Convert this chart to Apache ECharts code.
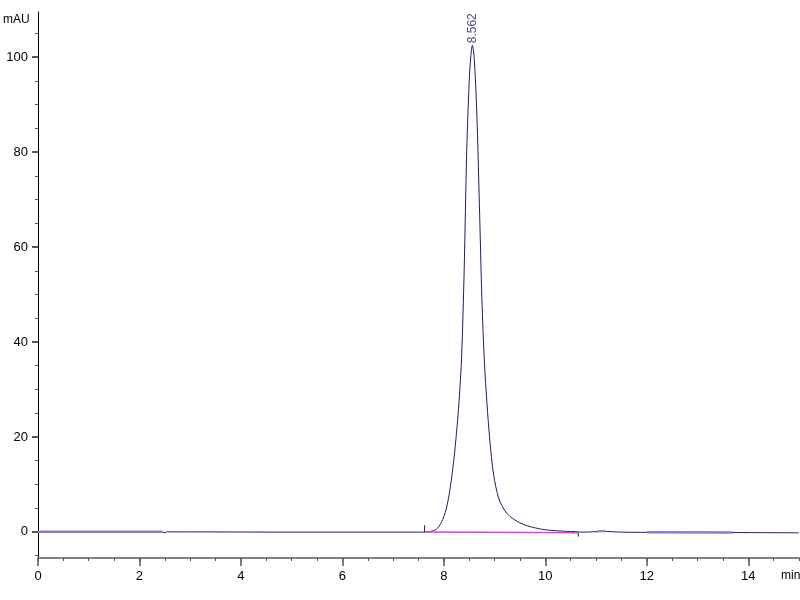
<!DOCTYPE html>
<html><head><meta charset="utf-8">
<script src="https://cdn.jsdelivr.net/npm/echarts@6/dist/echarts.min.js"></script>
<style>html,body{margin:0;padding:0;background:#fff}#c{width:800px;height:600px}</style>
</head><body><div id="c"></div>
<script>
const times = [0, 2.4, 2.5, 2.55, 2.6, 3, 5, 7, 7.5, 7.6, 7.7, 7.78, 7.85, 7.9, 7.95, 8.0, 8.05, 8.1, 8.15, 8.2, 8.25, 8.3, 8.35, 8.4, 8.45, 8.5, 8.53, 8.562, 8.6, 8.65, 8.7, 8.75, 8.8, 8.85, 8.9, 8.95, 9.0, 9.05, 9.1, 9.2, 9.3, 9.4, 9.5, 9.6, 9.7, 9.8, 9.9, 10.0, 10.2, 10.4, 10.6, 10.7, 11.0, 11.1, 11.2, 11.5, 12, 13, 14, 15];
const signal = [0.05, 0.05, -0.15, 0.05, 0, 0, -0.05, -0.05, -0.05, -0.05, 0.05, 0.2, 0.55, 1.1, 2.0, 3.2, 5.0, 7.6, 11.2, 15.5, 21, 27.5, 37, 55, 80, 95, 100, 102.5, 99.5, 88, 69, 49, 35.5, 27, 20, 14.5, 10.8, 8.3, 6.5, 4.5, 3.3, 2.5, 1.9, 1.45, 1.1, 0.85, 0.62, 0.45, 0.25, 0.12, 0.05, -0.05, 0.05, 0.2, 0.1, -0.05, -0.1, -0.1, -0.15, -0.2];
const peakPoint = [[8.562, 102.5]];
const peakLabel = '8.562';
const integBaseline = [[7.62, 0], [10.65, -0.2]];
const startMark = [[7.62, 0], [7.62, 1.4]];
const endMark = [[10.65, -0.2], [10.65, -1.0]];
const overlay1 = [[0, 0.05], [2.45, 0.05]];
const overlay2 = [[12, -0.1], [13.7, -0.12]];
const blip = [[11.0, 0.05], [11.1, 0.2], [11.2, 0.1]];
const yLabels = [0, 20, 40, 60, 80, 100];
const yMinor = [-5, 0, 5, 10, 15, 20, 25, 30, 35, 40, 45, 50, 55, 60, 65, 70, 75, 80, 85, 90, 95, 100, 105];
const xLabels = [0, 2, 4, 6, 8, 10, 12, 14];

const font = 'Liberation Sans, Arial, sans-serif';
const sig = times.map((t, i) => [t, signal[i]]);

const chart = echarts.init(document.getElementById('c'), null, { renderer: 'canvas' });
chart.setOption({
  animation: false,
  backgroundColor: '#fff',
  grid: { left: 38, right: 1, top: 12, bottom: 42 },
  xAxis: [{
    type: 'value', min: 0, max: 15, interval: 0.5,
    axisLine: { show: true, onZero: false, lineStyle: { color: '#808080', width: 2 } },
    axisTick: { show: true, length: 3, lineStyle: { color: '#555', width: 1 } },
    axisLabel: { show: true, customValues: xLabels, margin: 12, color: '#000', fontSize: 13, fontFamily: font },
    splitLine: { show: false }
  }, {
    type: 'value', min: 0, max: 15, position: 'bottom',
    axisLine: { show: false, onZero: false },
    axisTick: { show: true, length: 8, customValues: xLabels, lineStyle: { color: '#555', width: 1.5 } },
    axisLabel: { show: false },
    splitLine: { show: false }
  }],
  yAxis: [{
    type: 'value', min: -5.5, max: 109.5,
    axisLine: { show: true, onZero: false, lineStyle: { color: '#000', width: 1 } },
    axisTick: { show: true, length: 3, customValues: yMinor, lineStyle: { color: '#555' } },
    axisLabel: { show: false },
    splitLine: { show: false }
  }, {
    type: 'value', min: -5.5, max: 109.5, position: 'left',
    axisLine: { show: false },
    axisTick: { show: true, length: 6, customValues: yLabels, lineStyle: { color: '#555', width: 2 } },
    axisLabel: { show: true, customValues: yLabels, margin: 10, color: '#000', fontSize: 13, fontFamily: font },
    splitLine: { show: false }
  }],
  graphic: [
    { type: 'text', left: 3, top: 14, style: { text: 'mAU', fill: '#000', font: '12px ' + font } },
    { type: 'text', left: 781, top: 570, style: { text: 'min', fill: '#000', font: '12px ' + font } }
  ],
  series: [
    { type: 'line', data: sig, symbol: 'none', smooth: 0.3, lineStyle: { color: '#1e1e62', width: 1 }, z: 3 },
    { type: 'line', data: overlay1, symbol: 'none', lineStyle: { color: '#8484c4', width: 2.5 }, z: 5 },
    { type: 'line', data: overlay2, symbol: 'none', lineStyle: { color: '#8484c4', width: 2.5 }, z: 5 },
    { type: 'line', data: blip, symbol: 'none', lineStyle: { color: '#8484c4', width: 2 }, z: 5 },
    { type: 'line', data: integBaseline, symbol: 'none', lineStyle: { color: '#e040d8', width: 1.5 }, z: 4 },
    { type: 'line', data: startMark, symbol: 'none', lineStyle: { color: '#222', width: 1 }, z: 4 },
    { type: 'line', data: endMark, symbol: 'none', lineStyle: { color: '#222', width: 1 }, z: 4 },
    { type: 'scatter', data: peakPoint, symbolSize: 0, z: 6,
      label: { show: true, formatter: peakLabel, position: 'top', rotate: 90, distance: 2,
        color: '#1c1c5a', fontSize: 12, fontFamily: font, align: 'left', verticalAlign: 'middle' } }
  ]
});
</script></body></html>
